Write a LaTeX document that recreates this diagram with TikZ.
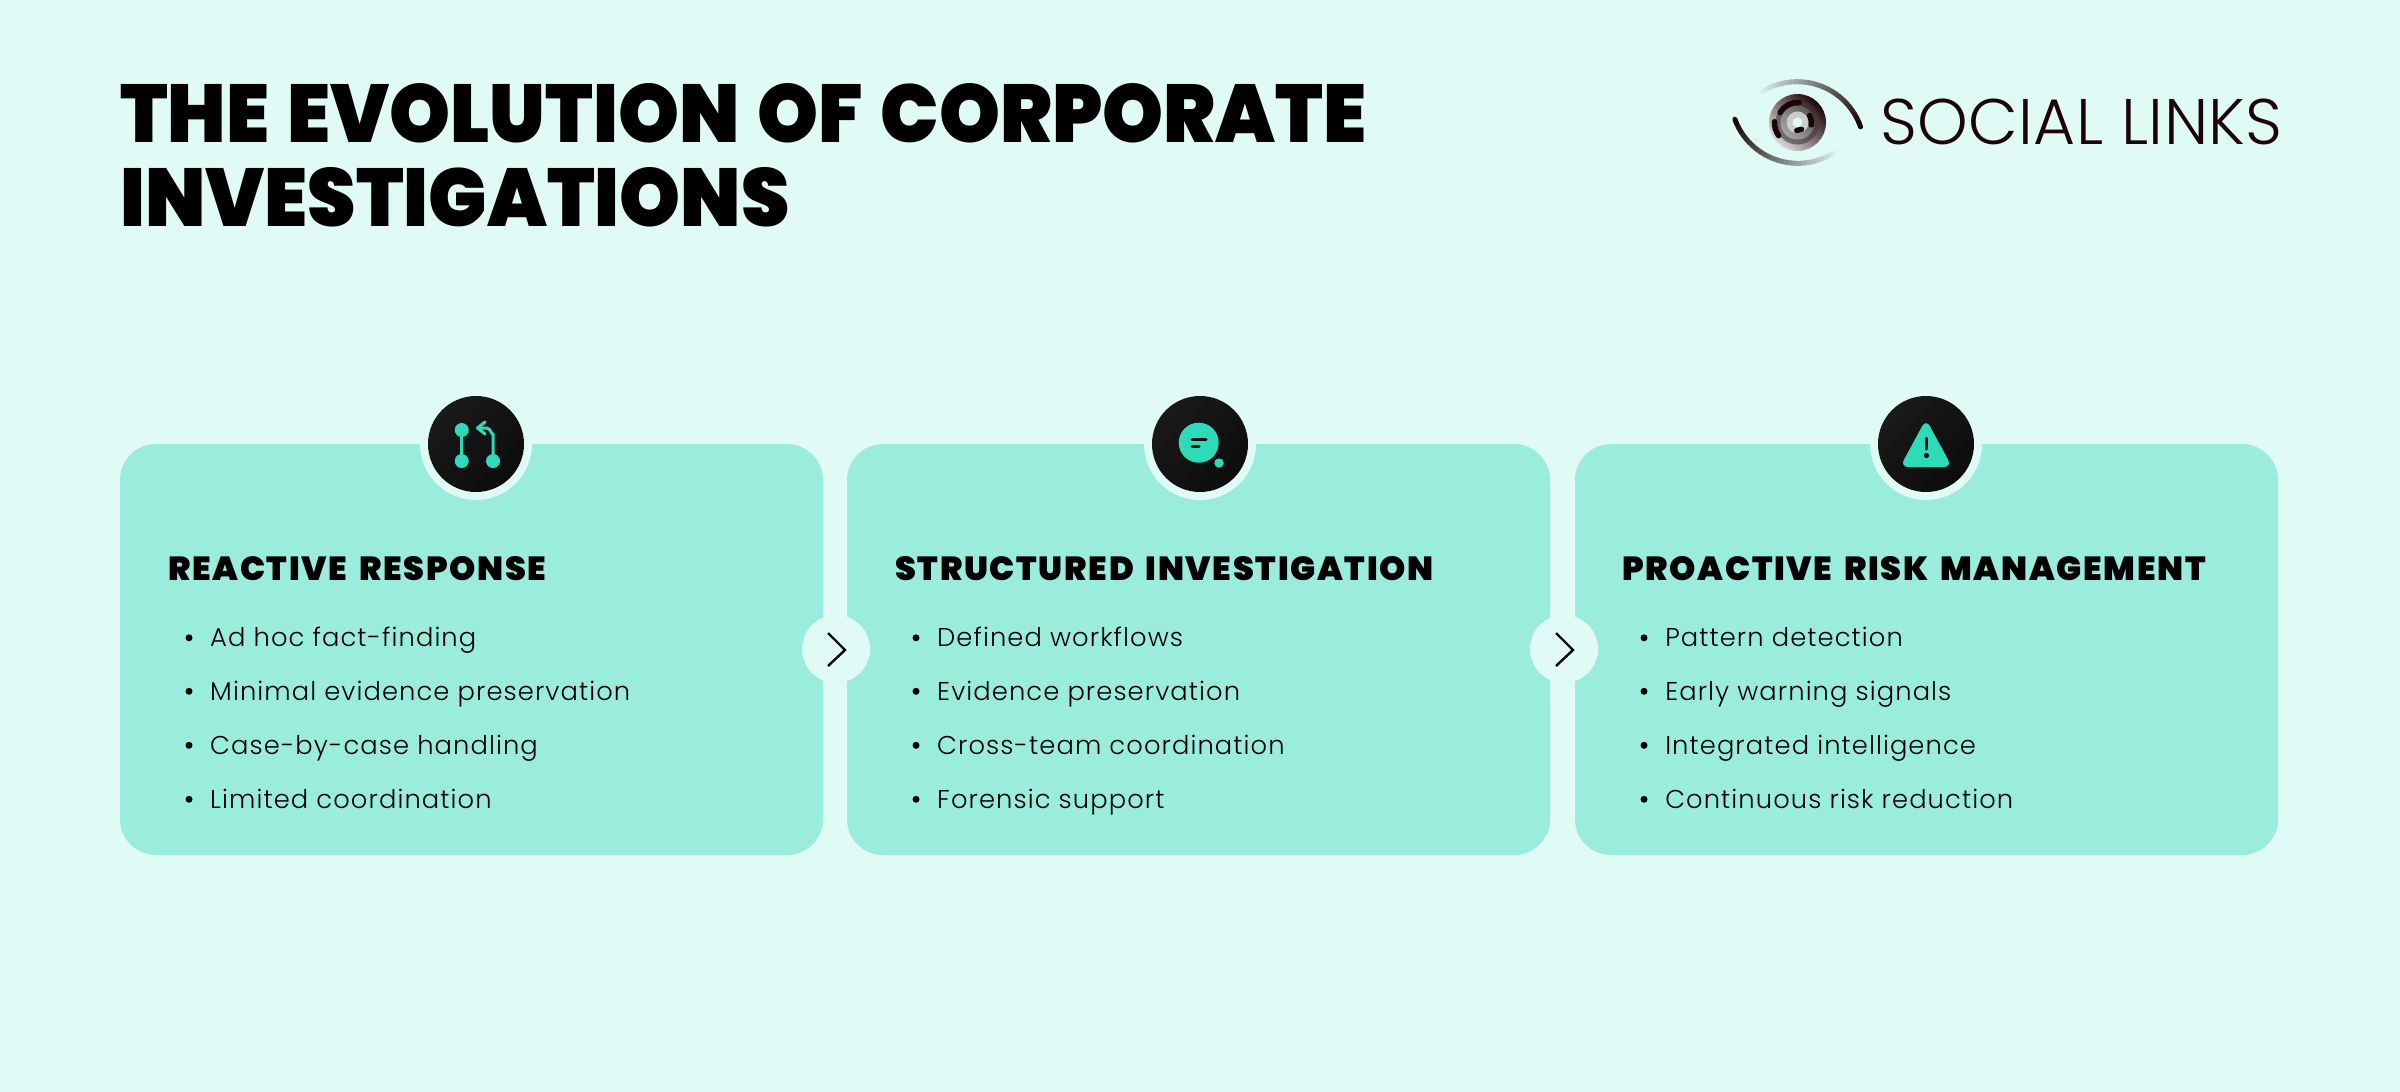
\documentclass[tikz,border=0pt]{standalone}
\usepackage{fontspec}
\setmainfont{Poppins}
\newfontfamily\titlefont[UprightFont=* Black,FakeStretch=0.945,WordSpace=1.35]{Poppins}
\newfontfamily\headfont[UprightFont=* Black,LetterSpace=5.1,WordSpace=1.6]{Poppins}
\newfontfamily\bodyfont[UprightFont=* Light,LetterSpace=4.2]{Poppins}
\newfontfamily\logofont[UprightFont=* Light,LetterSpace=0.6]{Poppins}
\definecolor{bgc}{HTML}{E0FAF5}
\definecolor{cardc}{HTML}{9AEDDC}
\definecolor{teal}{HTML}{2EDBB8}
\definecolor{darkc}{HTML}{111111}
\definecolor{logoc}{HTML}{1C0508}
\tikzset{
  card/.style={fill=cardc,rounded corners=36*0.03cm},
  ringc/.style={circle,fill=bgc,minimum size=112*0.03cm,inner sep=0},
  badge/.style={circle,inner sep=0,minimum size=96*0.03cm,left color=black!90,right color=black!95,shading angle=45},
  conn/.style={circle,fill=bgc,minimum size=68*0.03cm,inner sep=0},
  chev/.style={draw=black,line width=2.4*0.03cm,line join=miter},
  heading/.style={anchor=base west,inner sep=0,font=\headfont\fontsize{28.5}{30}\selectfont},
  item/.style={anchor=base west,inner sep=0,font=\bodyfont\fontsize{22}{23}\selectfont},
  dotb/.style={circle,fill=black,minimum size=7*0.03cm,inner sep=0},
  titletxt/.style={anchor=base west,inner sep=0,font=\titlefont\fontsize{70}{70}\selectfont},
  icon/.style={draw=teal,line width=3*0.03cm,line cap=round,line join=round},
  tealdot/.style={fill=teal},
  darkbar/.style={draw=darkc,line width=3*0.03cm,line cap=round},
  eyestroke/.style={line width=5*0.03cm,line cap=round},
  irisarc/.style={draw=logoc,line width=5.5*0.03cm,line cap=round},
}
\begin{document}
\begin{tikzpicture}[x=0.03cm,y=-0.03cm]
\useasboundingbox[fill=bgc] (0,0) rectangle (2400,1092);
\node[titletxt] (t1) at (120,142) {THE EVOLUTION OF CORPORATE};
\node[titletxt] (t2) at (120,226) {INVESTIGATIONS};
% cards
\fill[card] (120,444) rectangle (823,855);
\fill[card] (847,444) rectangle (1550,855);
\fill[card] (1575,444) rectangle (2278,855);
% badges
\foreach \n/\x in {a/476,b/1200,c/1926}{
  \node[ringc] (r\n) at (\x,444) {};
  \node[badge] (b\n) at (\x,444) {};
}
% connectors
\foreach \n/\x in {a/836,b/1564}{
  \node[conn] (c\n) at (\x,649) {};
  \draw[chev] (\x-8,633) -- (\x+9,650) -- (\x-8,666);
}
% icon 1
\draw[icon] (461.7,430) -- (461.7,461);
\fill[tealdot] (461.7,430) circle (7);
\fill[tealdot] (461.7,461) circle (7);
\fill[tealdot] (493,461) circle (7);
\draw[icon] (493,461) -- (493,434) to[out=-90,in=0] (487,428) -- (478,428);
\draw[icon] (485,422) -- (477.5,428) -- (485,434);
% icon 2
\fill[tealdot] (1198.7,442.7) circle (20);
\fill[tealdot] (1219,463) circle (4.7);
\draw[darkbar] (1192,439) -- (1206,439);
\draw[darkbar] (1192,446) -- (1199,446);
% icon 3
\fill[tealdot,rounded corners=7] (1926,419) -- (1952,467) -- (1900,467) -- cycle;
\draw[darkbar] (1926.5,438) -- (1926.5,449);
\fill[darkc] (1926.5,455.5) circle (2.6);
% card text
\node[heading] (h1) at (168,580) {REACTIVE RESPONSE};
\node[heading] (h2) at (895,580) {STRUCTURED INVESTIGATION};
\node[heading] (h3) at (1622,580) {PROACTIVE RISK MANAGEMENT};
\foreach \x/\a/\b/\c/\d in {
 0/Ad hoc fact-finding/Minimal evidence preservation/Case-by-case handling/Limited coordination,
 727/Defined workflows/Evidence preservation/Cross-team coordination/Forensic support,
 1455/Pattern detection/Early warning signals/Integrated intelligence/Continuous risk reduction}{
  \foreach \y/\t in {646.5/\a,700/\b,754/\c,808/\d}{
    \node[dotb] at (189+\x,\y-8.7) {};
    \node[item] at (210+\x,\y) {\t};
  }
}
% logo text
\node[anchor=base west,inner sep=0,text=logoc,font=\logofont\fontsize{55}{62}\selectfont] (logo) at (1880,144.3) {SOCIAL LINKS};
% logo eye: arcs fading along their length
\foreach \i in {0,...,26}{
  \pgfmathsetmacro{\ta}{127-\i*4}
  \pgfmathsetmacro{\tb}{127-(\i+1)*4}
  \pgfmathtruncatemacro{\p}{100*\i/26}
  \draw[eyestroke,draw=logoc!\p!bgc] ({1797.2+67*cos(\ta)},{148.7-67*sin(\ta)}) -- ({1797.2+67*cos(\tb)},{148.7-67*sin(\tb)});
}
\foreach \i in {0,...,26}{
  \pgfmathsetmacro{\ta}{308-\i*4}
  \pgfmathsetmacro{\tb}{308-(\i+1)*4}
  \pgfmathtruncatemacro{\p}{100*\i/26}
  \draw[eyestroke,draw=logoc!\p!bgc] ({1797.8+67*cos(\ta)},{96.3-67*sin(\ta)}) -- ({1797.8+67*cos(\tb)},{96.3-67*sin(\tb)});
}
% iris
\shade[left color=logoc,right color=black!15,shading angle=-45] (1797.5,122.5) circle (28.5);
\shade[left color=logoc!85!white,right color=black!55,shading angle=-45] (1797.5,122.5) circle (22);
\shade[left color=black!65,right color=black!35,shading angle=-45] (1797.5,122.5) circle (17);
\fill[black!20] (1797.5,122.5) circle (11);
\fill[bgc] (1797.5,122.5) circle (5);
% iris spiral strokes
\draw[irisarc] ({1797.5+20*cos(85)},{122.5-20*sin(85)}) arc[start angle=-85,end angle=-150,radius=20];
\draw[irisarc] ({1797.5+23*cos(178)},{122.5-23*sin(178)}) arc[start angle=-178,end angle=-215,radius=23];
\draw[irisarc] ({1797.5+14*cos(30)},{122.5-14*sin(30)}) arc[start angle=-30,end angle=10,radius=14];
\draw[irisarc] ({1797.5+8*cos(-60)},{122.5-8*sin(-60)}) arc[start angle=60,end angle=95,radius=8];
\end{tikzpicture}
\end{document}
